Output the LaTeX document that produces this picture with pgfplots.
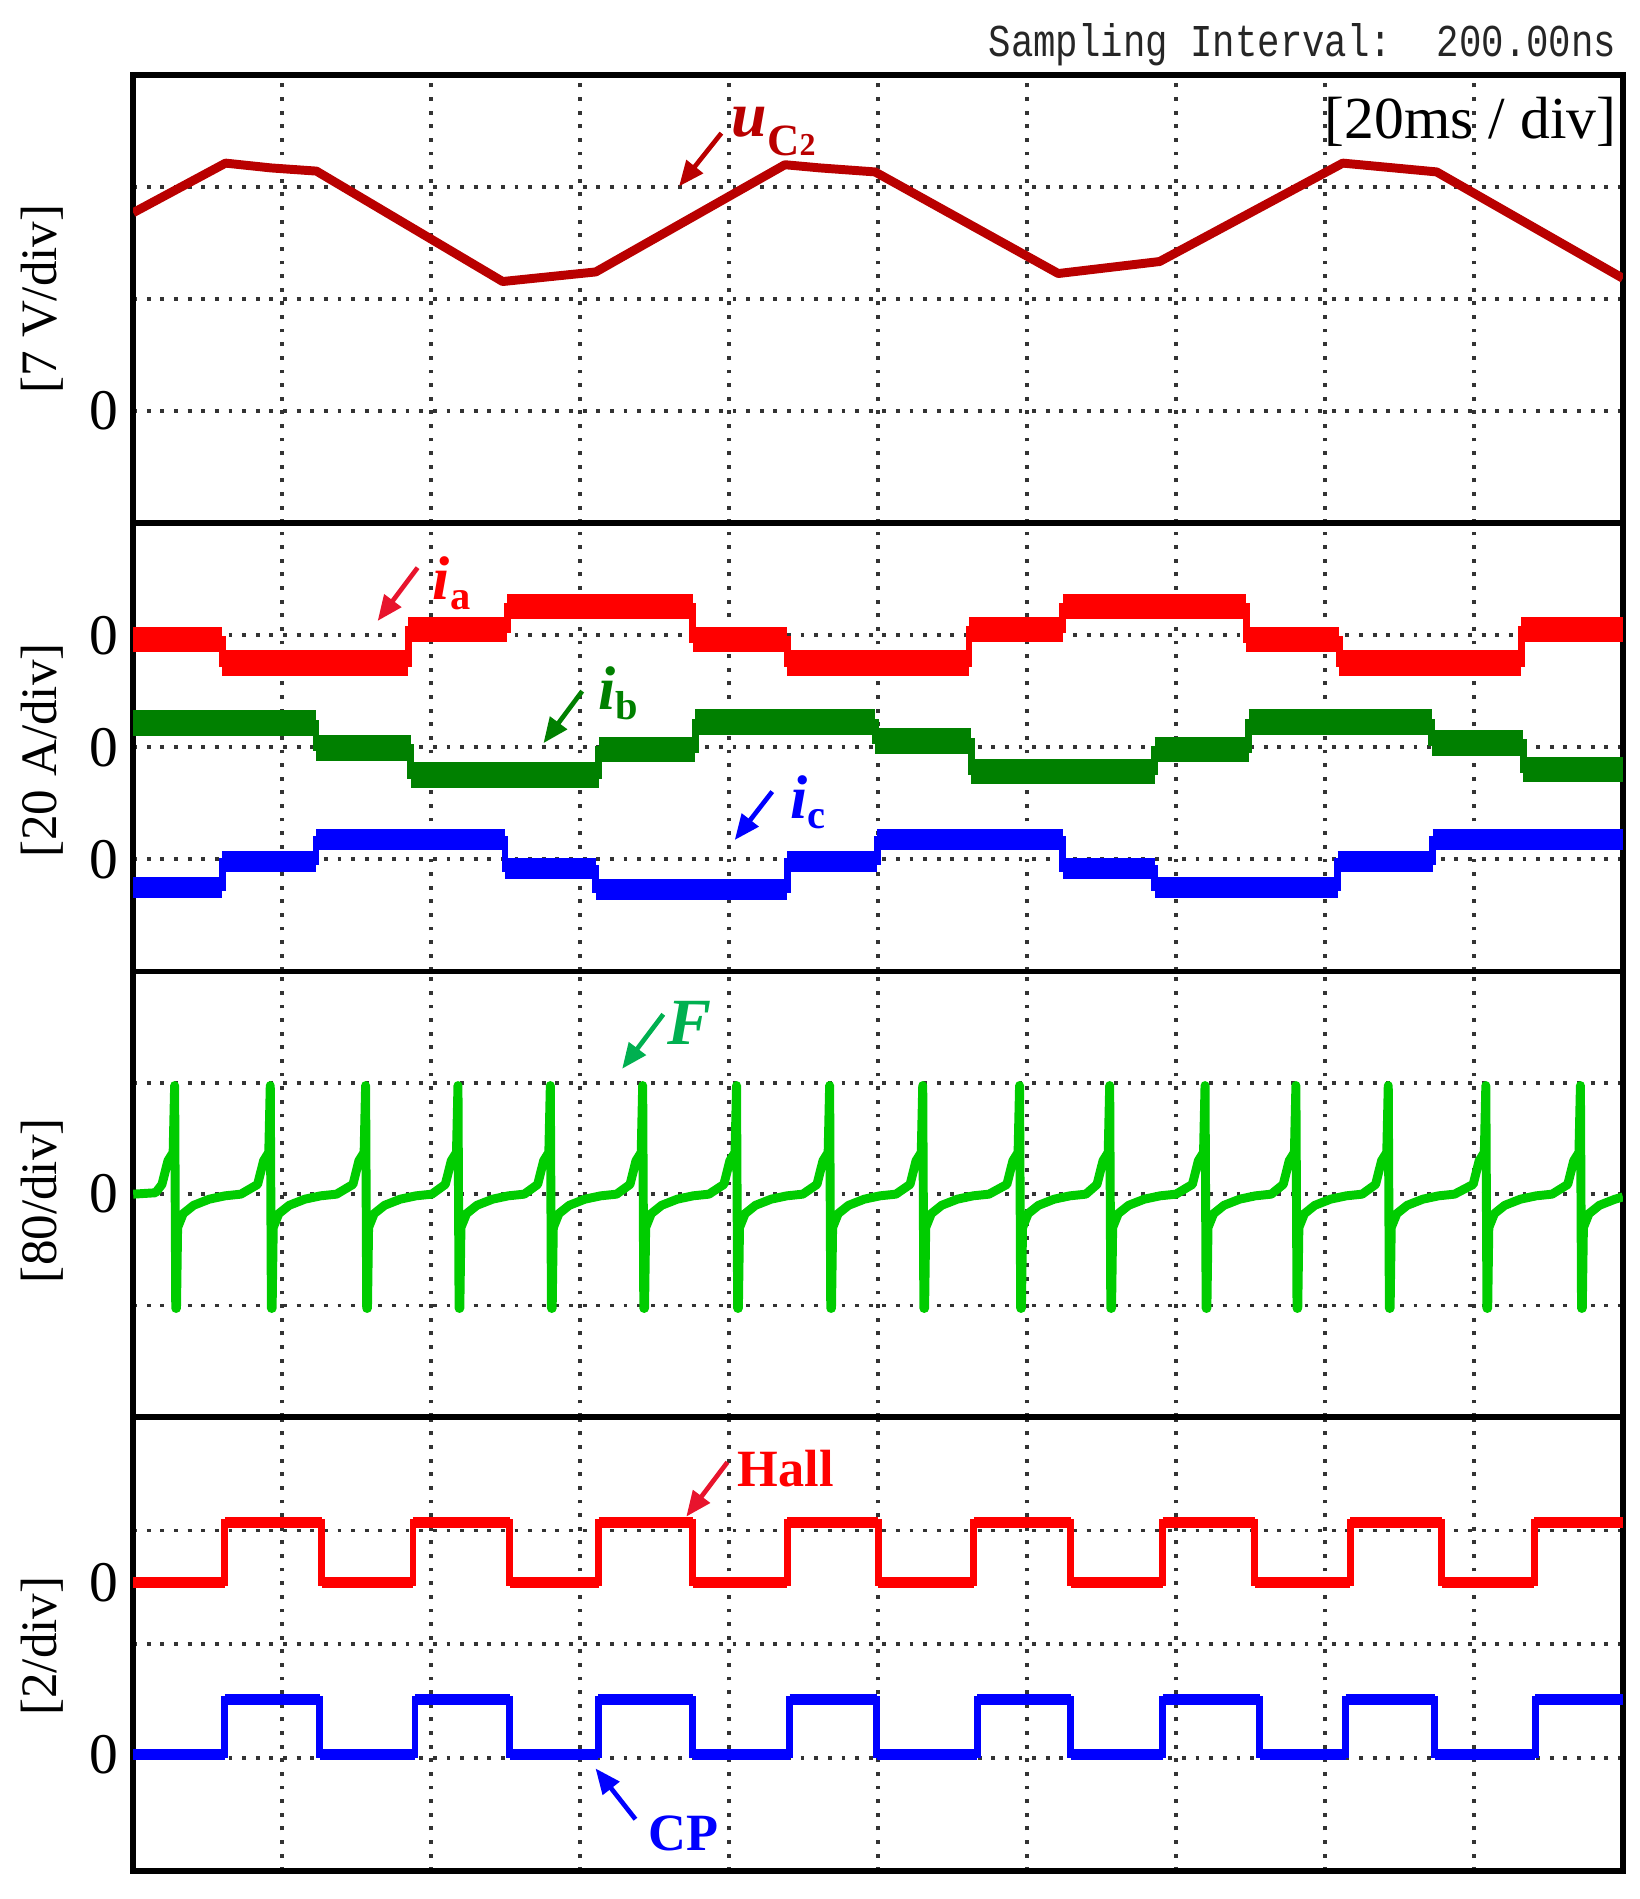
\documentclass[border=0pt]{standalone}
\usepackage{fontspec}
\setmainfont{Liberation Serif}
\newfontfamily\scopefont{Liberation Mono}
\usepackage{pgfplots}
\usepackage{pgfplotstable}
\pgfplotsset{compat=1.18}
\usetikzlibrary{arrows.meta}

\definecolor{ucred}{RGB}{185,0,0}
\definecolor{ared}{RGB}{255,0,0}
\definecolor{aarrow}{RGB}{232,20,45}
\definecolor{bgreen}{RGB}{0,128,0}
\definecolor{cblue}{RGB}{0,0,255}
\definecolor{fgreen}{RGB}{0,204,0}
\definecolor{flabel}{RGB}{0,176,80}

% capacitor voltage u_C2 [V], time [ms]
\pgfplotstableread{
t u
0 12.4
12.4 15.5
18.5 15.2
24.6 15.0
49.6 8.1
62.1 8.7
87.5 15.4
92.2 15.2
99.6 14.95
124.2 8.6
137.8 9.35
162.4 15.5
175.0 14.95
200 8.3
}\uctab

% phase currents [A]
\pgfplotstableread{
t v
0 -0.8
11.95 -5.0
36.91 1.0
50.24 5.1
75.12 -0.8
87.80 -5.0
112.20 1.0
124.81 5.1
149.43 -0.8
161.95 -5.0
186.34 1.0
200 1.0
}\iatab
\pgfplotstableread{
t v
0 4.3
24.55 -0.1
37.24 -5.0
62.52 -0.4
75.45 4.5
99.63 1.1
112.52 -4.3
137.14 -0.4
149.76 4.5
174.34 0.8
186.63 -4.0
200 -4.0
}\ibtab
\pgfplotstableread{
t v
0 -5.1
11.95 -0.4
24.55 3.5
49.92 -1.6
62.11 -5.4
87.80 -0.4
99.92 3.5
124.81 -1.6
137.14 -5.1
161.71 -0.4
174.47 3.5
200 3.5
}\ictab

% F
\pgfplotstableread{
t v
0 0
3.0 1
3.86 7
4.66 24
5.36 30
5.56 78
5.71 -82
5.81 -82
5.96 -24
6.71 -14
8.11 -8
10.21 -3.6
12.33 -1.2
14.46 0
16.7 7
17.5 24
18.2 30
18.4 78
18.55 -82
18.65 -82
18.8 -24
19.55 -14
20.95 -8
23.05 -3.6
25.17 -1.2
27.3 0
29.5 7
30.3 24
31.0 30
31.2 78
31.35 -82
31.45 -82
31.6 -24
32.35 -14
33.75 -8
35.85 -3.6
37.97 -1.2
40.1 0
41.9 7
42.7 24
43.4 30
43.6 78
43.75 -82
43.85 -82
44.0 -24
44.75 -14
46.15 -8
48.25 -3.6
50.37 -1.2
52.5 0
54.3 7
55.1 24
55.8 30
56.0 78
56.15 -82
56.25 -82
56.4 -24
57.15 -14
58.55 -8
60.65 -3.6
62.77 -1.2
64.9 0
66.7 7
67.5 24
68.2 30
68.4 78
68.55 -82
68.65 -82
68.8 -24
69.55 -14
70.95 -8
73.05 -3.6
75.17 -1.2
77.3 0
79.3 7
80.1 24
80.8 30
81.0 78
81.15 -82
81.25 -82
81.4 -24
82.15 -14
83.55 -8
85.65 -3.6
87.77 -1.2
89.9 0
91.8 7
92.6 24
93.3 30
93.5 78
93.65 -82
93.75 -82
93.9 -24
94.65 -14
96.05 -8
98.15 -3.6
100.27 -1.2
102.4 0
104.3 7
105.1 24
105.8 30
106.0 78
106.15 -82
106.25 -82
106.4 -24
107.15 -14
108.55 -8
110.65 -3.6
112.77 -1.2
114.9 0
117.3 7
118.1 24
118.8 30
119.0 78
119.15 -82
119.25 -82
119.4 -24
120.15 -14
121.55 -8
123.65 -3.6
125.77 -1.2
127.9 0
129.4 7
130.2 24
130.9 30
131.1 78
131.25 -82
131.35 -82
131.5 -24
132.25 -14
133.65 -8
135.75 -3.6
137.87 -1.2
140.0 0
142.2 7
143.0 24
143.7 30
143.9 78
144.05 -82
144.15 -82
144.3 -24
145.05 -14
146.45 -8
148.55 -3.6
150.67 -1.2
152.8 0
154.4 7
155.2 24
155.9 30
156.1 78
156.25 -82
156.35 -82
156.5 -24
157.25 -14
158.65 -8
160.75 -3.6
162.87 -1.2
165.0 0
166.8 7
167.6 24
168.3 30
168.5 78
168.65 -82
168.75 -82
168.9 -24
169.65 -14
171.05 -8
173.15 -3.6
175.27 -1.2
177.4 0
179.9 7
180.7 24
181.4 30
181.6 78
181.75 -82
181.85 -82
182.0 -24
182.75 -14
184.15 -8
186.25 -3.6
188.37 -1.2
190.5 0
192.6 7
193.4 24
194.1 30
194.3 78
194.45 -82
194.55 -82
194.7 -24
195.45 -14
196.85 -8
198.95 -3.6
200 -2
}\ftab

% Hall and CP logic signals
\pgfplotstableread{
t v
0 0
12.29 1.06
25.28 0
37.56 1.06
50.57 0
62.50 1.06
75.12 0
87.80 1.06
100.05 0
112.85 1.06
125.85 0
138.21 1.06
150.57 0
163.41 1.06
175.69 0
188.08 1.06
200 1.06
}\halltab
\pgfplotstableread{
t v
0 0
12.29 0.96
25.04 0
37.82 0.96
50.57 0
62.44 0.96
75.12 0
88.13 0.96
99.84 0
113.33 0.96
125.85 0
138.21 0.96
151.22 0
162.76 0.96
174.72 0
188.23 0.96
200 0.96
}\cptab

\pgfplotsset{
  oscpanel/.style={
    scale only axis, width=12.3cm,
    anchor=north west,
    xmin=0, xmax=200, ymin=0, ymax=4,
    xtick={20,40,...,180}, xticklabels={},
    minor ytick={1,2,3},
    xmajorgrids=true, ymajorgrids=false, yminorgrids=true,
    grid style={black!80, line width=0.9pt, dash pattern=on 0.9pt off 2.3pt},
    major grid style={black!80, line width=0.9pt, dash pattern=on 0.9pt off 2.3pt},
    minor grid style={black!80, line width=0.9pt, dash pattern=on 0.9pt off 2.3pt},
    major tick length=0pt, minor tick length=0pt,
    axis line style={line width=1.3pt},
    /pgf/number format/assume math mode=true,
    yticklabel style={font=\fontsize{13.5}{13.5}\selectfont},
  },
  band/.style={jump mark left, line width=#1, line cap=butt},
}
\tikzset{ann/.style={line width=1.1pt, -{Triangle[length=0.21cm, width=0.17cm]}}}

\begin{document}
\begin{tikzpicture}
\path[use as bounding box] (0,0) rectangle (13.54cm,-15.68cm);

% u_C2
\begin{axis}[oscpanel, at={(1.10cm,-0.62cm)}, height=3.70cm, ytick={1}, yticklabels={0}]
\addplot[ucred, line width=2.1pt, line join=round] table[x=t, y expr=\thisrow{u}/7+1] {\uctab};
\end{axis}

% phase currents
\begin{axis}[oscpanel, at={(1.10cm,-4.32cm)}, height=3.70cm, ytick={1,2,3}, yticklabels={0,0,0}]
\addplot[ared, band=6pt] table[x=t, y expr=\thisrow{v}/20+3] {\iatab};
\addplot[ared, const plot, line width=1.6pt] table[x=t, y expr=\thisrow{v}/20+3] {\iatab};
\addplot[bgreen, band=6pt] table[x=t, y expr=\thisrow{v}/20+2] {\ibtab};
\addplot[bgreen, const plot, line width=1.6pt] table[x=t, y expr=\thisrow{v}/20+2] {\ibtab};
\addplot[cblue, band=5pt] table[x=t, y expr=\thisrow{v}/20+1] {\ictab};
\addplot[cblue, const plot, line width=1.6pt] table[x=t, y expr=\thisrow{v}/20+1] {\ictab};
\end{axis}

% F
\begin{axis}[oscpanel, at={(1.10cm,-8.02cm)}, height=3.68cm, ytick={2}, yticklabels={0}]
\addplot[fgreen, line width=2.1pt, line join=round] table[x=t, y expr=\thisrow{v}/80+2] {\ftab};
\end{axis}

% Hall and CP
\begin{axis}[oscpanel, at={(1.10cm,-11.70cm)}, height=3.75cm, ytick={1.03,2.54}, yticklabels={0,0}]
\addplot[ared, band=2.5pt] table[x=t, y expr=\thisrow{v}/2+2.54] {\halltab};
\addplot[ared, const plot, line width=1.6pt] table[x=t, y expr=\thisrow{v}/2+2.54] {\halltab};
\addplot[cblue, band=2.5pt] table[x=t, y expr=\thisrow{v}/2+1.03] {\cptab};
\addplot[cblue, const plot, line width=1.6pt] table[x=t, y expr=\thisrow{v}/2+1.03] {\cptab};
\end{axis}

\begin{scope}[x=0.01cm, y=-0.01cm]
% header texts
\node[anchor=east, inner sep=0pt, text=black!85] at (1336,37)
  {\scalebox{0.82}[1]{\scopefont\fontsize{10.7}{10.7}\selectfont Sampling Interval:\ \ 200.00ns}};
\node[anchor=east, inner sep=0pt] at (1336,101) {\fontsize{14}{14}\selectfont [20ms / div]};
% axis unit labels
\node[rotate=90, inner sep=0pt] at (35,247) {\fontsize{12}{12}\selectfont [7 V/div]};
\node[rotate=90, inner sep=0pt] at (35,620) {\fontsize{12}{12}\selectfont [20 A/div]};
\node[rotate=90, inner sep=0pt] at (35,992) {\fontsize{12}{12}\selectfont [80/div]};
\node[rotate=90, inner sep=0pt] at (35,1360) {\fontsize{12}{12}\selectfont [2/div]};
% trace annotations
\draw[ann, ucred] (596,110) -- (561,154);
\node[anchor=base west, inner sep=0pt, text=ucred] at (604,113)
  {{\fontsize{15}{15}\selectfont\bfseries\itshape u}\raisebox{-4.3pt}{\fontsize{10.5}{10.5}\selectfont\bfseries C{\fontsize{7.5}{7.5}\selectfont 2}}};
\draw[ann, aarrow] (345,469) -- (312,513);
\node[anchor=base west, inner sep=0pt, text=ared] at (357,495)
  {{\fontsize{14.5}{14.5}\selectfont\bfseries\itshape i}\raisebox{-2.4pt}{\fontsize{9.5}{9.5}\selectfont\bfseries a}};
\draw[ann, bgreen] (481,571) -- (449,614);
\node[anchor=base west, inner sep=0pt, text=bgreen] at (494,586)
  {{\fontsize{14.5}{14.5}\selectfont\bfseries\itshape i}\raisebox{-2.4pt}{\fontsize{9.5}{9.5}\selectfont\bfseries b}};
\draw[ann, cblue] (638,654) -- (607,694);
\node[anchor=base west, inner sep=0pt, text=cblue] at (652,676)
  {{\fontsize{14.5}{14.5}\selectfont\bfseries\itshape i}\raisebox{-2.4pt}{\fontsize{9.5}{9.5}\selectfont\bfseries c}};
\draw[ann, flabel] (548,838) -- (514,883);
\node[anchor=base west, inner sep=0pt, text=flabel] at (551,863)
  {\fontsize{15.5}{15.5}\selectfont\bfseries\itshape F};
\draw[ann, aarrow] (601,1208) -- (567,1253);
\node[anchor=base west, inner sep=0pt, text=ared] at (609,1228)
  {\fontsize{12.3}{12.3}\selectfont\bfseries Hall};
\draw[ann, cblue] (525,1503) -- (492,1461);
\node[anchor=base west, inner sep=0pt, text=cblue] at (535,1529)
  {\fontsize{12.3}{12.3}\selectfont\bfseries CP};
\end{scope}
\end{tikzpicture}
\end{document}
